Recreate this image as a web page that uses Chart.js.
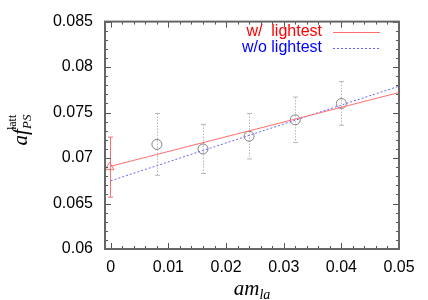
<!DOCTYPE html>
<html>
<head>
<meta charset="utf-8">
<script src="https://cdn.jsdelivr.net/npm/chart.js@4"></script>
<style>
  html, body { margin: 0; padding: 0; background: #fff; }
  #wrap { width: 428px; height: 300px; position: relative; }
</style>
</head>
<body>
<div id="wrap"><canvas id="fpsChart"></canvas></div>
<script>
// quark mass am_la and decay constant values
const massValues = [0.008, 0.016, 0.024, 0.032, 0.040];
const fpsValues = [0.0715, 0.0710, 0.0724, 0.0742, 0.0760];
const fpsErrors = [0.0034, 0.0027, 0.0025, 0.0025, 0.0024];

// chiral limit point
const chiralX = [-0.0002];
const chiralY = [0.0690];
const chiralErr = [0.0033];

// linear fits (end points)
const fitWithX = [0, 0.05];
const fitWithY = [0.0691, 0.0772];
const fitWithoutX = [0, 0.05];
const fitWithoutY = [0.0675, 0.0779];

const xTicks = [0, 0.01, 0.02, 0.03, 0.04, 0.05];
const yTicks = [0.06, 0.065, 0.07, 0.075, 0.08, 0.085];
const legendLabels = ['w/  lightest', 'w/o lightest'];

const toPoints = (xs, ys) => xs.map((x, i) => ({ x, y: ys[i] }));

const RED = 'rgb(255,110,110)';
const BLUE = 'rgb(100,100,255)';

// error bars, frame, ticks, legend and axis titles
const decor = {
  id: 'decor',
  beforeDatasetsDraw(chart) {
    const { ctx, scales: { x, y } } = chart;
    const bar = (xs, ys, es, color, dash) => {
      ctx.save();
      ctx.strokeStyle = color;
      ctx.lineWidth = 1;
      xs.forEach((v, i) => {
        const px = Math.round(x.getPixelForValue(v)) + 0.5;
        const top = y.getPixelForValue(ys[i] + es[i]);
        const bot = y.getPixelForValue(ys[i] - es[i]);
        ctx.setLineDash(dash);
        ctx.beginPath();
        ctx.moveTo(px, top); ctx.lineTo(px, bot);
        ctx.stroke();
        ctx.setLineDash([]);
        ctx.beginPath();
        ctx.moveTo(px - 2.5, top); ctx.lineTo(px + 2.5, top);
        ctx.moveTo(px - 2.5, bot); ctx.lineTo(px + 2.5, bot);
        ctx.stroke();
      });
      ctx.restore();
    };
    bar(massValues, fpsValues, fpsErrors, '#b8b8b8', [1.5, 1.5]);
    bar(chiralX, chiralY, chiralErr, RED, []);
  },
  afterDraw(chart) {
    const { ctx, chartArea: a, scales: { x, y } } = chart;
    ctx.save();
    ctx.strokeStyle = '#555';
    ctx.lineWidth = 1;
    // minor + major ticks, mirrored
    for (let v = 0; v <= 0.05 + 1e-9; v += 0.002) {
      const px = Math.round(x.getPixelForValue(v)) + 0.5;
      const major = Math.abs(v / 0.01 - Math.round(v / 0.01)) < 1e-6;
      const len = major ? 6 : 3;
      ctx.beginPath();
      ctx.moveTo(px, a.bottom); ctx.lineTo(px, a.bottom - len);
      ctx.moveTo(px, a.top); ctx.lineTo(px, a.top + len);
      ctx.stroke();
    }
    for (let v = 0.06; v <= 0.085 + 1e-9; v += 0.001) {
      const py = Math.round(y.getPixelForValue(v)) + 0.5;
      const major = Math.abs(v / 0.005 - Math.round(v / 0.005)) < 1e-6;
      const len = major ? 6 : 3;
      ctx.beginPath();
      ctx.moveTo(a.left, py); ctx.lineTo(a.left + len, py);
      ctx.moveTo(a.right, py); ctx.lineTo(a.right - len, py);
      ctx.stroke();
    }
    ctx.strokeStyle = '#666';
    ctx.lineWidth = 2;
    ctx.strokeRect(a.left, a.top, a.right - a.left, a.bottom - a.top);

    // legend
    ctx.font = '16px "Liberation Sans", Arial, sans-serif';
    ctx.textAlign = 'right';
    ctx.textBaseline = 'middle';
    ctx.lineWidth = 1;
    ctx.fillStyle = '#ff0000';
    ctx.fillText(legendLabels[0], 322, 32);
    ctx.strokeStyle = RED;
    ctx.beginPath(); ctx.moveTo(333, 32.5); ctx.lineTo(380, 32.5); ctx.stroke();
    ctx.fillStyle = '#0000ff';
    ctx.fillText(legendLabels[1], 322, 48);
    ctx.strokeStyle = BLUE;
    ctx.setLineDash([2, 2]);
    ctx.beginPath(); ctx.moveTo(333, 48.5); ctx.lineTo(380, 48.5); ctx.stroke();
    ctx.setLineDash([]);

    // x title: am_la
    ctx.fillStyle = '#000';
    ctx.textAlign = 'left';
    ctx.textBaseline = 'alphabetic';
    ctx.font = 'italic 21px "Liberation Serif", "DejaVu Serif", serif';
    const xt = 'am';
    const w1 = ctx.measureText(xt).width;
    ctx.font = 'italic 14px "Liberation Serif", serif';
    const w2 = ctx.measureText('la').width;
    const x0 = 252 - (w1 + w2) / 2;
    ctx.font = 'italic 21px "Liberation Serif", "DejaVu Serif", serif';
    ctx.fillText(xt, x0, 295);
    ctx.font = 'italic 14px "Liberation Serif", serif';
    ctx.fillText('la', x0 + w1, 299);

    // y title: af_PS^latt rotated
    ctx.translate(27, 130);
    ctx.rotate(-Math.PI / 2);
    ctx.font = 'italic 21px "Liberation Serif", "DejaVu Serif", serif';
    const ya = ctx.measureText('af').width;
    ctx.font = 'italic 13px "Liberation Serif", serif';
    const yb = ctx.measureText('PS').width;
    const y0 = -(ya + yb) / 2;
    ctx.font = 'italic 21px "Liberation Serif", "DejaVu Serif", serif';
    ctx.fillText('af', y0, 0);
    ctx.font = 'italic 13px "Liberation Serif", serif';
    ctx.fillText('PS', y0 + ya, 4);
    ctx.font = '12px "Liberation Serif", serif';
    ctx.fillText('latt', y0 + ya - 1, -11);
    ctx.restore();
  }
};

new Chart(document.getElementById('fpsChart'), {
  type: 'scatter',
  data: {
    datasets: [
      {
        type: 'line',
        data: toPoints(fitWithX, fitWithY),
        borderColor: RED,
        borderWidth: 1,
        pointRadius: 0,
        fill: false
      },
      {
        type: 'line',
        data: toPoints(fitWithoutX, fitWithoutY),
        borderColor: BLUE,
        borderWidth: 1,
        borderDash: [2, 2],
        pointRadius: 0,
        fill: false
      },
      {
        data: toPoints(chiralX, chiralY),
        pointStyle: 'triangle',
        pointRadius: 5,
        borderColor: RED,
        borderWidth: 1,
        backgroundColor: 'rgba(0,0,0,0)'
      },
      {
        data: toPoints(massValues, fpsValues),
        pointStyle: 'circle',
        pointRadius: 5,
        borderColor: '#808080',
        borderWidth: 1,
        backgroundColor: 'rgba(0,0,0,0)'
      }
    ]
  },
  options: {
    responsive: true,
    maintainAspectRatio: false,
    animation: false,
    events: [],
    layout: { padding: { left: 0, right: 29, top: 20, bottom: 0 } },
    plugins: { legend: { display: false }, tooltip: { enabled: false } },
    scales: {
      x: {
        type: 'linear',
        min: -0.001,
        max: 0.05,
        grid: { display: false, drawTicks: false },
        border: { display: false },
        afterBuildTicks: s => { s.ticks = xTicks.map(value => ({ value })); },
        afterFit: s => { s.height = 51; },
        ticks: {
          padding: 9,
          color: '#000',
          font: { family: '"Liberation Sans", Arial, sans-serif', size: 16 },
          callback: v => String(v)
        }
      },
      y: {
        min: 0.06,
        max: 0.085,
        grid: { display: false, drawTicks: false },
        border: { display: false },
        afterBuildTicks: s => { s.ticks = yTicks.map(value => ({ value })); },
        afterFit: s => { s.width = 105; },
        ticks: {
          padding: 12,
          color: '#000',
          font: { family: '"Liberation Sans", Arial, sans-serif', size: 16 },
          callback: v => String(+v.toFixed(3))
        }
      }
    }
  },
  plugins: [decor]
});
</script>
</body>
</html>
